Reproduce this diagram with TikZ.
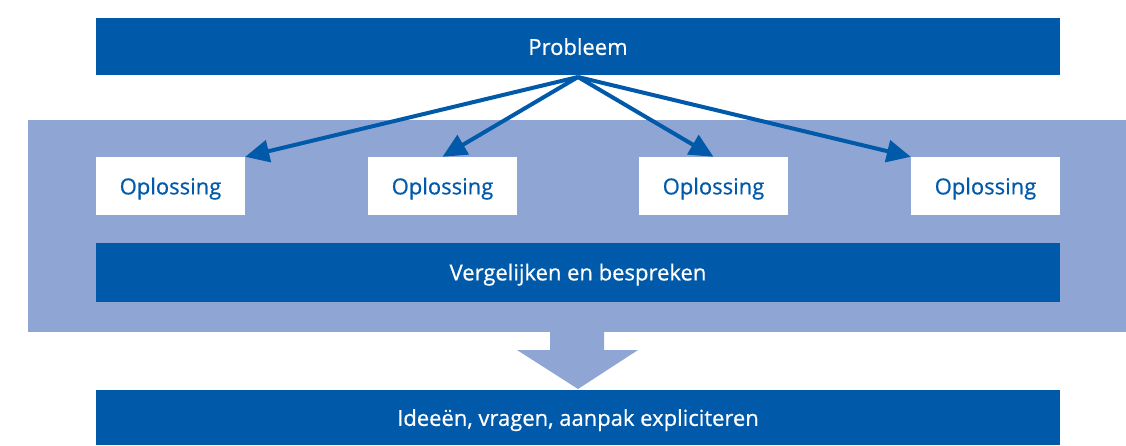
\documentclass[tikz,border=0pt]{standalone}
\usepackage{fontspec}
\setmainfont{Open Sans}
\newfontfamily\labelfont{Open Sans}[FakeBold=0.6]
\usetikzlibrary{arrows.meta}
\definecolor{darkblue}{RGB}{0,90,169}
\definecolor{lightblue}{RGB}{143,166,213}

\begin{document}
\begin{tikzpicture}[x=1pt, y=-1pt,
  bar/.style={fill=darkblue, text=white, minimum width=964pt, inner sep=0pt, text depth=0pt, font=\labelfont\fontsize{22}{24}\selectfont},
  solution/.style={fill=white, text=darkblue, minimum width=149pt, minimum height=58pt, inner sep=0pt, text depth=0pt, font=\labelfont\fontsize{22}{24}\selectfont},
  link/.style={darkblue, line width=4pt, -{Triangle[length=24pt, width=22pt]}}]
\useasboundingbox (0,0) rectangle (1126,445);
% achtergrondvlak
\fill[lightblue] (28,120) rectangle (1126,332);
\node[bar, minimum height=57pt] (probleem) at (578,46.5) {Probleem};
\node[solution] (opl1) at (170.5,186) {Oplossing};
\node[solution] (opl2) at (442.5,186) {Oplossing};
\node[solution] (opl3) at (713.5,186) {Oplossing};
\node[solution] (opl4) at (985.5,186) {Oplossing};
\node[bar, minimum height=59pt] (vergelijken) at (578,272) {Vergelijken en bespreken};
\node[bar, minimum height=55pt] (ideeen) at (578,417.5) {Ideeën, vragen, aanpak expliciteren};
\coordinate (top) at (578,77);
\draw[link] (top) -- (opl1.north east);
\draw[link] (top) -- (opl2.north);
\draw[link] (top) -- (opl3.north);
\draw[link] (top) -- (opl4.north west);
% grote pijl
\coordinate (pijl) at (578,332);
\fill[lightblue] (pijl) +(-28,0) -- +(26,0) -- +(26,18) -- +(60,18) -- +(0,57) -- +(-61,18) -- +(-28,18) -- cycle;
\end{tikzpicture}
\end{document}
